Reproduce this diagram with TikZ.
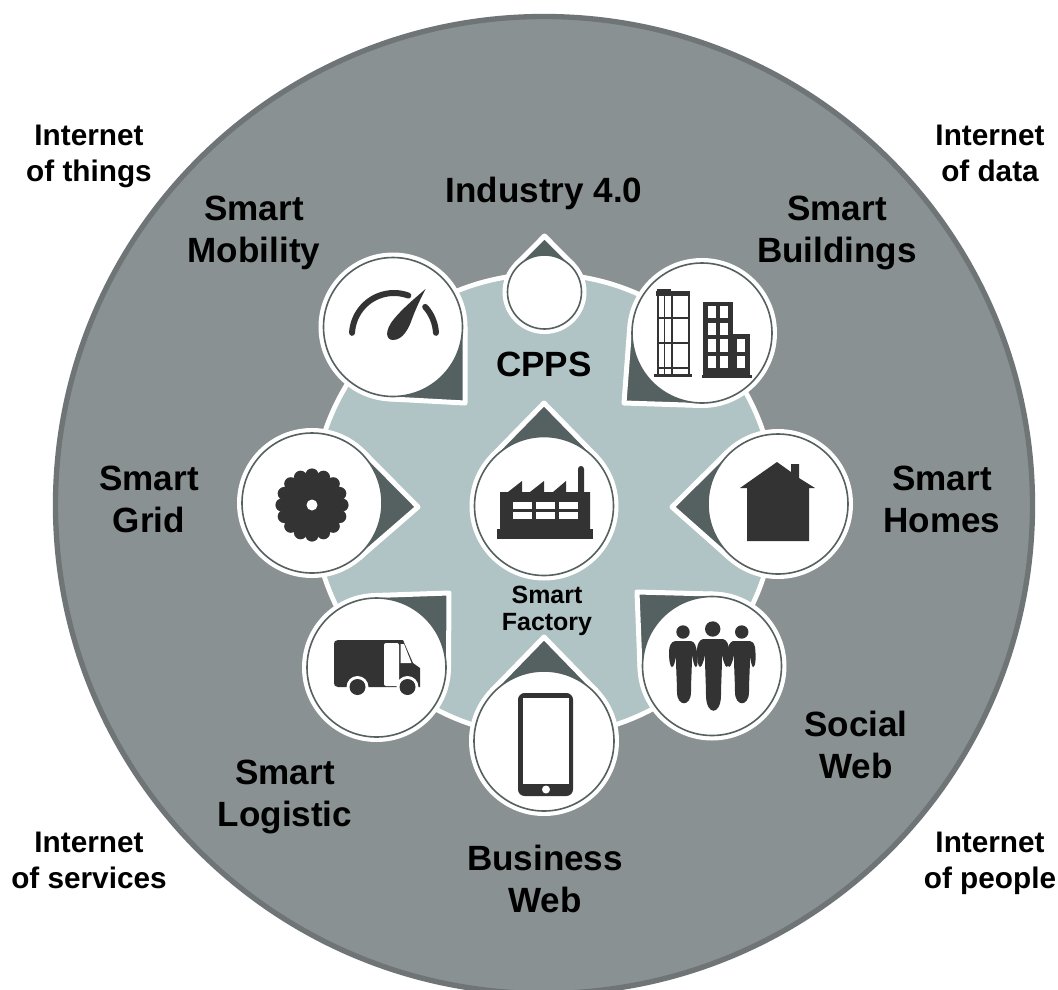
\documentclass[tikz,border=0pt]{standalone}
\usepackage{fontspec}
\setmainfont{Liberation Sans}
\definecolor{ringgray}{HTML}{6F7577}
\definecolor{outergray}{HTML}{8A9192}
\definecolor{innerblue}{HTML}{B0C3C5}
\definecolor{taildark}{HTML}{546160}
\definecolor{icondark}{HTML}{333333}
\tikzset{
  biglabel/.style={font=\fontsize{26.3pt}{31.5pt}\selectfont\bfseries, align=center, text=black, inner sep=0pt},
  netlabel/.style={font=\fontsize{22.3pt}{27pt}\selectfont\bfseries, align=center, text=black, inner sep=0pt},
  smalllabel/.style={font=\fontsize{18.7pt}{20.3pt}\selectfont\bfseries, align=center, text=black, inner sep=0pt},
  icon/.style={fill=icondark, draw=none},
  hole/.style={fill=white, draw=none},
  tailshape/.style={fill=taildark, draw=white, line width=3.75pt, line join=round},
  pincircle/.style={circle, fill=white, draw=taildark, line width=1.2pt, inner sep=0pt, outer sep=0pt}
}
% name, cx, cy, r, tipx, tipy
\newcommand{\pinmark}[6]{%
  \pgfmathsetmacro{\prt}{#4+2.5}%
  \pgfmathsetmacro{\pa}{atan2(#6-#3,#5-#2)}%
  \pgfmathsetmacro{\pd}{veclen(#6-#3,#5-#2)}%
  \pgfmathsetmacro{\pb}{acos(\prt/\pd)}%
  \pgfmathsetmacro{\pax}{#2+\prt*cos(\pa+\pb)}%
  \pgfmathsetmacro{\pay}{#3+\prt*sin(\pa+\pb)}%
  \pgfmathsetmacro{\pbx}{#2+\prt*cos(\pa-\pb)}%
  \pgfmathsetmacro{\pby}{#3+\prt*sin(\pa-\pb)}%
  \pgfmathsetmacro{\psz}{2*#4*0.75}%
  \fill[white] (#2,#3) circle[radius=#4+5];
  \draw[tailshape] (#5,#6) -- (\pax,\pay) -- (\pbx,\pby) -- cycle;
  \node[pincircle, minimum size=\psz pt] (#1) at (#2,#3) {};
}
\begin{document}
\begin{tikzpicture}[x=0.75pt,y=-0.75pt]
\useasboundingbox (0,0) rectangle (1058,990);
\clip (0,0) rectangle (1058,990);
\fill[white] (0,0) rectangle (1058,990);
\draw[fill=outergray, draw=ringgray, line width=4pt] (544,505) circle[radius=488.5];
\draw[fill=innerblue, draw=white, line width=3.6pt] (544,505) circle[radius=231];

\pinmark{industry}{544.5}{292}{37}{544.5}{236}
\pinmark{mobility}{393}{327}{69.5}{465}{403}
\pinmark{buildings}{702}{333}{70}{624}{403}
\pinmark{grid}{312}{503}{70}{418}{507}
\pinmark{homes}{778}{504}{70}{672}{507}
\pinmark{logistic}{376.5}{667.5}{69.5}{449}{593}
\pinmark{social}{712}{666}{69.5}{637}{592}
\pinmark{business}{544}{741}{70}{544}{637}
\pinmark{factory}{544}{506}{69.5}{544}{403}

% gauge
\draw[icondark, line width=4.5pt, line cap=round] plot[smooth, domain=177:70, samples=30] ({394+42*cos(\x)},{335-42*sin(\x)});
\draw[icondark, line width=4.5pt, line cap=round] plot[smooth, domain=42:3, samples=12] ({394+42*cos(\x)},{335-42*sin(\x)});
\fill[icon] (425.5,289) .. controls (414,299) and (402,309) .. (394,319) .. controls (384,331) and (386,340) .. (393,340) .. controls (403,340) and (409,328) .. (412,319) .. controls (416,308) and (421,298) .. (425.5,289) -- cycle;

% buildings
\begin{scope}[draw=icondark, line width=1.3pt]
\draw (658,293) rectangle (689,375);
\draw (664.5,293) -- (664.5,375) (672,293) -- (672,375);
\draw (658,318) -- (689,318) (658,343) -- (689,343) (658,368) -- (689,368);
\end{scope}
\fill[icon] (656,291) rectangle (690,296);
\fill[icon] (657,289) rectangle (671,292);
\fill[icon] (654,374) rectangle (692,377);
\fill[icon] (703,302) rectangle (733,376);
\fill[icon] (733,334) rectangle (750,376);
\fill[icon] (702,375) rectangle (752,378);
\foreach \wx in {708,720}
  \foreach \wy/\wz in {306/318,323/335,339/352,356/368}
    \fill[hole] (\wx,\wy) rectangle (\wx+8,\wz);
\foreach \wy/\wz in {339/352,356/368}
  \fill[hole] (737,\wy) rectangle (745,\wz);

% gear
\fill[icon] (312,505) circle[radius=29];
\foreach \ga in {0,22.5,...,337.5}
  \fill[icon] ({312+30*cos(\ga)},{505+30*sin(\ga)}) circle[radius=6.6];
\fill[hole] (312,505) circle[radius=5.5];

% factory
\fill[icon] (497,529) rectangle (593,539);
\fill[icon] (500,492) -- (508,492) -- (522,481) -- (522,492) -- (530,492) -- (544,481) -- (544,492) -- (553,492) -- (566,481) -- (566,492) -- (578,492) -- (578,469) .. controls (578,465) and (584,465) .. (584,469) -- (584,492) -- (590,492) -- (590,530) -- (500,530) -- cycle;
\foreach \wx in {513,536,559}
  \foreach \wy in {502,512}
    \fill[hole] (\wx,\wy) rectangle (\wx+19,\wy+7);

% house
\fill[icon] (777,462) -- (791,472) -- (791,464) -- (799,464) -- (799,478) -- (815,488) -- (809,488) -- (809,541) -- (747,541) -- (747,488) -- (740,488) -- cycle;

% truck
\fill[icon] (338,640) -- (403,640) -- (413,663) -- (420,668) -- (420,687) -- (338,687) .. controls (335,687) and (334,685) .. (334,683) -- (334,644) .. controls (334,642) and (335,640) .. (338,640) -- cycle;
\fill[hole, rounded corners=1.5pt] (384,643) rectangle (399,686);
\fill[hole] (400.5,644) -- (404,644) -- (411.5,663) -- (400.5,663) -- cycle;
\fill[white] (357.5,687) circle[radius=11];
\fill[white] (407.5,687) circle[radius=11];
\fill[icon] (357.5,687) circle[radius=8];
\fill[icon] (407.5,687) circle[radius=8];

% people
\fill[icon] (683,632) circle[radius=6.7];
\fill[icon] (712.7,629) circle[radius=7.7];
\fill[icon] (741.7,632) circle[radius=6.7];
\fill[icon] (675,641) .. controls (671,642) and (669,646) .. (669,652) .. controls (669,660) and (670,667) .. (672,667) .. controls (674,667) and (675,661) .. (676,657) .. controls (676,670) and (677,682) .. (677,692) .. controls (677,707) and (691,707) .. (691,692) .. controls (691,680) and (692,668) .. (692,655) .. controls (693,660) and (694,667) .. (696,667) .. controls (698,667) and (698,658) .. (697,652) .. controls (696,646) and (695,642) .. (691,641) -- cycle;
\fill[icon] (703,639) .. controls (699,640) and (697,645) .. (697,650) .. controls (697,658) and (698,667) .. (700,667) .. controls (702,667) and (704,660) .. (705,655) .. controls (705,670) and (706,685) .. (706,695) .. controls (706,716) and (721,716) .. (721,695) .. controls (721,685) and (722,670) .. (722,655) .. controls (723,660) and (725,667) .. (727,667) .. controls (729,667) and (729,656) .. (729,650) .. controls (729,645) and (727,640) .. (723,639) -- cycle;
\fill[icon] (733,641) .. controls (730,642) and (728,646) .. (728,650) .. controls (728,658) and (727,667) .. (729,667) .. controls (731,667) and (733,660) .. (734,655) .. controls (734,670) and (735,682) .. (735,692) .. controls (735,707) and (749,707) .. (749,692) .. controls (749,680) and (750,668) .. (750,657) .. controls (751,662) and (752,667) .. (753,667) .. controls (756,667) and (756,655) .. (755,647) .. controls (754,643) and (752,641) .. (750,641) -- cycle;

% phone
\fill[icon, rounded corners=5pt] (518,693) rectangle (573,796);
\fill[hole] (522.5,698) rectangle (569,784);
\fill[hole] (546,789.5) circle[radius=4];

% labels
\node[biglabel] (lindustry) at (544,193) {Industry 4.0};
\node[biglabel] (lmobility) at (254,233) {Smart\\Mobility};
\node[biglabel] (lbuildings) at (837,233) {Smart\\Buildings};
\node[biglabel] (lgrid) at (149,499) {Smart\\Grid};
\node[biglabel] (lhomes) at (942,499) {Smart\\Homes};
\node[biglabel] (lsocial) at (856,745) {Social\\Web};
\node[biglabel] (llogistic) at (285,797) {Smart\\Logistic};
\node[biglabel] (lbusiness) at (545,879) {Business\\Web};
\node[biglabel] (lcpps) at (544,364) {CPPS};
\node[smalllabel] (lfactory) at (547,611) {Smart\\Factory};
\node[netlabel] (nthings) at (89,156) {Internet\\of things};
\node[netlabel] (ndata) at (990,153) {Internet\\of data};
\node[netlabel] (nservices) at (89,860) {Internet\\of services};
\node[netlabel] (npeople) at (990,863) {Internet\\of people};
\end{tikzpicture}
\end{document}
